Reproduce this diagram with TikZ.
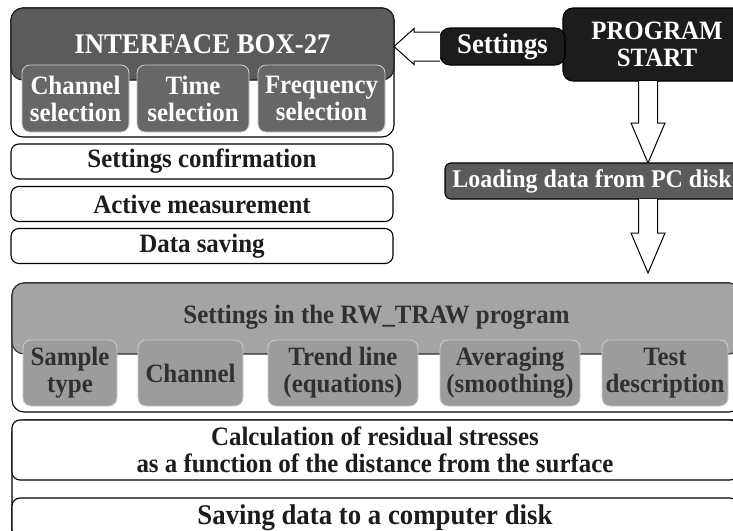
\documentclass[tikz,border=0pt]{standalone}
\usepackage{fontspec}
\setmainfont{Liberation Serif}[FakeStretch=0.94]
\usepackage{tikz}
\usetikzlibrary{positioning,calc}

\definecolor{headdark}{HTML}{5B5B5B}
\definecolor{subdark}{HTML}{676767}
\definecolor{nearblack}{HTML}{1C1C1C}
\definecolor{headlight}{HTML}{A4A4A4}
\definecolor{sublight}{HTML}{9C9C9C}
\definecolor{rimlight}{HTML}{CDCDCD}
\definecolor{inkdark}{HTML}{303030}

\begin{document}
\begin{tikzpicture}[x=1pt, y=-1pt, line width=1.1pt,
    font=\bfseries\fontsize{26.5pt}{27pt}\selectfont,
    every node/.style={inner sep=0pt, outer sep=0pt, align=center},
    big text/.style={font=\bfseries\fontsize{28.5pt}{29pt}\selectfont},
    outer box/.style={draw=black, fill=white, rounded corners=12pt},
    head dark/.style={draw=nearblack, fill=headdark, text=white, rounded corners=12pt},
    sub dark/.style={draw=rimlight, line width=0.8pt, fill=subdark, text=white, rounded corners=8pt},
    head light/.style={draw=inkdark, fill=headlight, text=inkdark, rounded corners=12pt},
    sub light/.style={draw=rimlight, line width=0.8pt, fill=sublight, text=inkdark, rounded corners=8pt, minimum height=66},
    list box/.style={draw=black, fill=white, text=nearblack, rounded corners=8pt, minimum width=382, minimum height=35},
    black box/.style={draw=black, fill=nearblack, text=white, rounded corners=10pt},
    hollow down/.style={draw=black, fill=white, line width=1pt, to path={
        let \p1=(\tikztostart), \p2=(\tikztotarget) in
        (\x1-9.5pt,\y1) -- (\x1-9.5pt,\y2+40pt) -- (\x1-17pt,\y2+40pt) -- (\x1,\y2)
        -- (\x1+17pt,\y2+40pt) -- (\x1+9.5pt,\y2+40pt) -- (\x1+9.5pt,\y1)}},
    hollow left/.style={draw=black, fill=white, line width=1pt, to path={
        let \p1=(\tikztostart), \p2=(\tikztotarget) in
        (\x1,\y1+14.5pt) -- (\x2+20pt,\y1+14.5pt) -- (\x2+20pt,\y1+18pt) -- (\x2,\y1)
        -- (\x2+20pt,\y1-18pt) -- (\x2+20pt,\y1-14.5pt) -- (\x1,\y1-14.5pt)}}]

    \useasboundingbox (0,0) rectangle (733,530);
    \clip (0,0) rectangle (733,530);

    % Interface box with its three selections
    \node[outer box, minimum width=383, minimum height=129] (iface) at (202.5,72.5) {};
    \node[head dark, big text, minimum width=383, minimum height=72] (ihead) at (202.5,44) {INTERFACE BOX-27};
    \node[sub dark, minimum width=107, minimum height=67] (chsel) at (75.5,98.5) {Channel\\selection};
    \node[sub dark, minimum width=112, minimum height=67] (timesel) at (193,98.5) {Time\\selection};
    \node[sub dark, minimum width=127, minimum height=67] (freqsel) at (321.5,98.5) {Frequency\\selection};

    % Steps below the interface box
    \node[list box] (confirm) at (202,161.5) {Settings confirmation};
    \node[list box] (measure) [below=7.5pt of confirm] {Active measurement};
    \node[list box] (saving) [below=7pt of measure] {Data saving};

    % Start of the program
    \node[black box, minimum width=188, minimum height=73] (start) at (657,44.5) {PROGRAM\\START};
    \node[black box, big text, minimum width=125, minimum height=37] (settings) at (502.5,46.5) {Settings};
    \node[black box, draw=black, fill=headdark, minimum width=294, minimum height=36, rounded corners=6pt,
          font=\bfseries\fontsize{25.5pt}{26pt}\selectfont] (load) at (592,181) {Loading data from PC disk};

    % RW_TRAW settings
    \node[outer box, minimum width=729, minimum height=129] (rw) at (376.5,347.5) {};
    \node[head light, minimum width=729, minimum height=71, text depth=9pt] (rwhead) at (376.5,318.5) {Settings in the RW\_TRAW program};
    \node[sub light, minimum width=94] (sample) at (70,373) {Sample\\type};
    \node[sub light, minimum width=105] (channel) at (190.5,373) {Channel};
    \node[sub light, minimum width=150] (trend) at (343,373) {Trend line\\(equations)};
    \node[sub light, minimum width=140] (average) at (510,373) {Averaging\\(smoothing)};
    \node[sub light, minimum width=126] (testdesc) at (665,373) {Test\\description};

    % Calculation and saving
    \node[outer box, minimum width=735, minimum height=150] (lastframe) at (379.5,495) {};
    \node[list box, minimum width=726, minimum height=60] (calc) at (375,450) {Calculation of residual stresses\\as a function of the distance from the surface};
    \node[list box, big text, minimum width=726, minimum height=39] (savedisk) at (375,517.5) {Saving data to a computer disk};

    % Hollow arrows
    \coordinate (a1) at ([xshift=-9pt]start.south);
    \coordinate (a2) at (a1 |- load.south);
    \draw[hollow down] (a1) to (a1 |- load.north);
    \draw[hollow down] (a2) to ($(a2 |- rw.north)+(0,-10)$);
    \draw[hollow left] (settings.west) to (iface.east |- settings.west);
\end{tikzpicture}
\end{document}
